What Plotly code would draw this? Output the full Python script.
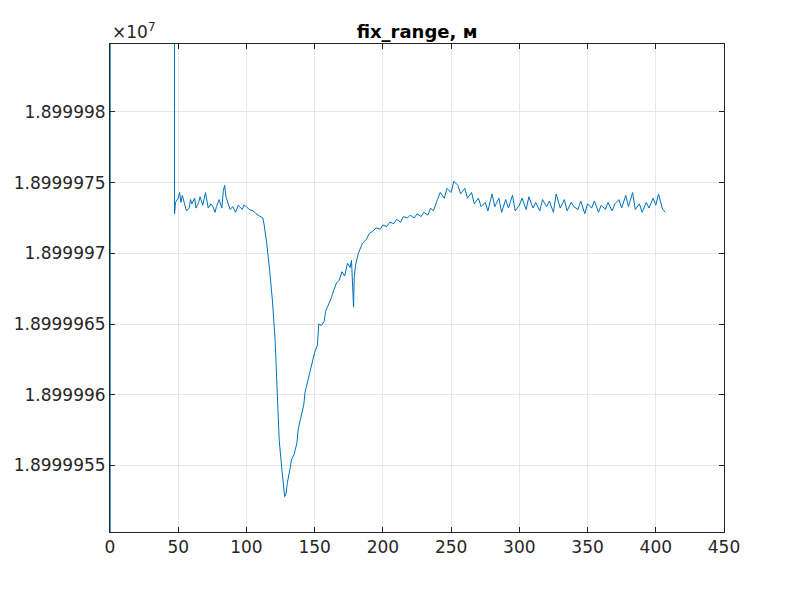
import plotly.graph_objects as go

# time samples and range values (metres), given in aligned rows
x = [0, 0.3, 47, 47.3, 48, 50, 51, 52, 53, 55,
     56, 58, 59, 60, 62, 63, 65, 66, 68, 70,
     71, 72, 74, 75, 77, 78, 80, 82, 83, 84,
     85, 87, 88, 90, 92, 94, 95, 97, 98, 100,
     102, 105, 107, 110, 112, 113, 115, 117, 119, 121,
     123, 124, 126, 127, 128, 129, 130, 132, 133, 135,
     137, 138, 140, 142, 143, 146, 148, 150, 152, 153,
     155, 157, 158, 160, 162, 164, 166, 168, 170, 172,
     174, 176, 177, 178.5, 179, 180, 182, 185, 188, 190,
     193, 195, 198, 200, 203, 205, 208, 210, 213, 215,
     218, 220, 223, 225, 228, 230, 233, 235, 237, 240,
     242, 245, 247, 250, 252, 255, 257, 260, 262, 265,
     267, 270, 272, 275, 277, 280, 282, 285, 287, 290,
     292, 295, 297, 300, 302, 305, 307, 310, 312, 315,
     317, 320, 322, 325, 327, 330, 333, 335, 338, 340,
     343, 345, 348, 350, 353, 355, 358, 360, 363, 365,
     368, 370, 373, 375, 378, 380, 383, 385, 388, 390,
     393, 395, 398, 400, 402, 405, 407]
y = [18990000, 19010000, 19010000, 18999972.8, 18999973.6, 18999973.9, 18999974.3, 18999973.6, 18999974.1, 18999973.4,
     18999973.0, 18999973.2, 18999973.8, 18999973.5, 18999973.9, 18999973.2, 18999973.6, 18999974.0, 18999973.4, 18999974.3,
     18999973.6, 18999973.2, 18999973.5, 18999973.4, 18999972.9, 18999973.3, 18999973.8, 18999973.2, 18999974.4, 18999974.8,
     18999974.0, 18999973.4, 18999973.1, 18999973.3, 18999972.9, 18999973.4, 18999973.3, 18999973.1, 18999973.4, 18999973.3,
     18999973.1, 18999973.0, 18999972.8, 18999972.6, 18999972.5, 18999972.0, 18999970.6, 18999968.8, 18999966.7, 18999963.9,
     18999959.7, 18999956.8, 18999954.7, 18999953.5, 18999952.8, 18999953.0, 18999953.8, 18999954.8, 18999955.4, 18999955.8,
     18999956.6, 18999957.6, 18999958.5, 18999959.3, 18999960.2, 18999961.4, 18999962.2, 18999963.0, 18999963.5, 18999965.0,
     18999964.9, 18999965.2, 18999965.9, 18999966.3, 18999966.8, 18999967.4, 18999967.9, 18999968.1, 18999968.7, 18999968.4,
     18999969.3, 18999969.0, 18999969.5, 18999966.2, 18999968.3, 18999969.2, 18999970.0, 18999970.7, 18999971.0, 18999971.4,
     18999971.6, 18999971.8, 18999971.7, 18999972.0, 18999971.9, 18999972.2, 18999972.1, 18999972.4, 18999972.2, 18999972.6,
     18999972.5, 18999972.7, 18999972.5, 18999972.8, 18999972.6, 18999972.9, 18999972.7, 18999973.2, 18999973.0, 18999973.8,
     18999974.3, 18999973.9, 18999974.6, 18999974.3, 18999975.1, 18999974.8, 18999974.2, 18999974.6, 18999973.9, 18999974.3,
     18999973.5, 18999973.9, 18999973.3, 18999973.6, 18999973.0, 18999974.2, 18999973.3, 18999973.9, 18999972.9, 18999973.8,
     18999973.2, 18999974.1, 18999973.0, 18999973.4, 18999973.9, 18999973.1, 18999974.0, 18999973.2, 18999973.6, 18999973.0,
     18999973.8, 18999973.3, 18999973.7, 18999972.9, 18999974.2, 18999973.2, 18999973.8, 18999973.0, 18999973.6, 18999973.3,
     18999973.1, 18999973.7, 18999972.8, 18999973.5, 18999973.2, 18999973.7, 18999972.9, 18999973.4, 18999973.1, 18999973.6,
     18999973.0, 18999973.5, 18999973.8, 18999973.2, 18999974.1, 18999973.3, 18999974.3, 18999973.1, 18999973.5, 18999972.9,
     18999973.6, 18999973.2, 18999973.9, 18999973.4, 18999974.2, 18999973.1, 18999972.9]

ytick_vals = [18999955, 18999960, 18999965, 18999970, 18999975, 18999980]
ytick_text = ["1.8999955", "1.899996", "1.8999965", "1.899997", "1.8999975", "1.899998"]
xtick_vals = [0, 50, 100, 150, 200, 250, 300, 350, 400, 450]

fig = go.Figure(go.Scatter(x=x, y=y, mode="lines", line=dict(color="#0072BD", width=1)))
ax = dict(showline=True, linecolor="#262626", mirror="ticks", ticks="inside", ticklen=5,
          tickcolor="#262626", showgrid=True, gridcolor="#e6e6e6", zeroline=False, automargin=False,
          tickfont=dict(family="DejaVu Sans", size=17, color="#262626"))
fig.update_xaxes(range=[0, 450], tickvals=xtick_vals, **ax)
fig.update_yaxes(range=[18999950.3, 18999984.8], tickvals=ytick_vals, ticktext=ytick_text, **ax)
fig.update_layout(
    width=800, height=598, paper_bgcolor="white", plot_bgcolor="white", showlegend=False,
    margin=dict(l=102, r=84, t=36, b=74),
    title=dict(text="<b>fix_range, м</b>", x=0.5, xanchor="center", xref="paper", y=0.96, yanchor="middle",
               font=dict(family="DejaVu Sans", size=18, color="black")),
    annotations=[dict(text="×10<sup>7</sup>", x=0, y=1, xref="paper", yref="paper", xanchor="left",
                      yanchor="bottom", showarrow=False, font=dict(family="DejaVu Sans", size=17, color="#262626"))],
)
fig.write_html("out.html")
